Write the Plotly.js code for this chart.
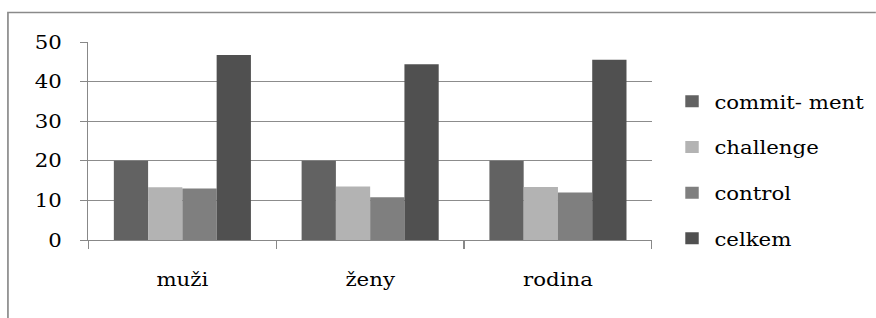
<!DOCTYPE html>
<html>
<head>
<meta charset="utf-8">
<script src="https://cdn.plot.ly/plotly-3.0.1.min.js"></script>
<style>
html,body{margin:0;padding:0;background:#fff;overflow:hidden;}
#chart{width:782px;height:318px;transform:scaleX(1.12);transform-origin:0 0;}
</style>
</head>
<body>
<div id="chart"></div>
<script>
var categories = ["muži", "ženy", "rodina"];
var seriesNames = ["commit- ment", "challenge", "control", "celkem"];
var commitment = [20, 20, 20];
var challenge = [13.3, 13.5, 13.4];
var control = [13, 10.8, 12];
var celkem = [46.7, 44.4, 45.5];
var yTicks = [0, 10, 20, 30, 40, 50];

var seriesValues = [commitment, challenge, control, celkem];
var colors = ["#626262", "#b3b3b3", "#7f7f7f", "#505050"];

var traces = seriesValues.map(function (vals, i) {
  return {
    type: "bar",
    x: categories,
    y: vals,
    name: seriesNames[i],
    legendgroup: "g" + i,
    marker: {color: colors[i], line: {width: 0}},
    hoverinfo: "x+y"
  };
});

// the reference is slightly stretched horizontally; draw narrower and scale with CSS
var S = 1.12;
var W = 782, H = 318;
var L = 89 / S, R = 652 / S, T = 42, B = 240;
var pw = R - L, ph = B - T;

var layout = {
  width: W, height: H,
  margin: {l: L, r: W - R, t: T, b: H - B, pad: 0, autoexpand: false},
  paper_bgcolor: "#fff", plot_bgcolor: "#fff",
  font: {family: "DejaVu Serif", size: 19, color: "#000"},
  barmode: "group",
  bargap: 0.27,
  bargroupgap: 0,
  showlegend: true,
  legend: {
    x: (598 - L) / pw, xanchor: "left",
    y: 0.354, yanchor: "middle",
    tracegroupgap: 18,
    itemwidth: 30,
    bgcolor: "rgba(0,0,0,0)"
  },
  xaxis: {
    type: "category",
    tickson: "boundaries",
    ticks: "outside", ticklen: 8, tickcolor: "#888", tickwidth: 1,
    showline: true, linecolor: "#888", linewidth: 1,
    showgrid: false,
    ticklabelstandoff: 22,
    fixedrange: true
  },
  yaxis: {
    range: [0, 50],
    tickvals: yTicks,
    ticktext: yTicks.map(String),
    ticks: "outside", ticklen: 7, tickcolor: "#888", tickwidth: 1,
    showline: true, linecolor: "#888", linewidth: 1,
    showgrid: true, gridcolor: "#8c8c8c", gridwidth: 1,
    zeroline: false,
    ticklabelstandoff: 12,
    fixedrange: true
  },
  shapes: [{
    type: "rect", xref: "paper", yref: "paper",
    x0: (7.6 - L) / pw, x1: (W + 10 - L) / pw,
    y0: -(H + 10 - B) / ph, y1: 1 + (T - 12.5) / ph,
    line: {color: "#8a8a8a", width: 1.5}, layer: "below"
  }]
};

Plotly.newPlot("chart", traces, layout, {displayModeBar: false, staticPlot: true});
</script>
</body>
</html>
